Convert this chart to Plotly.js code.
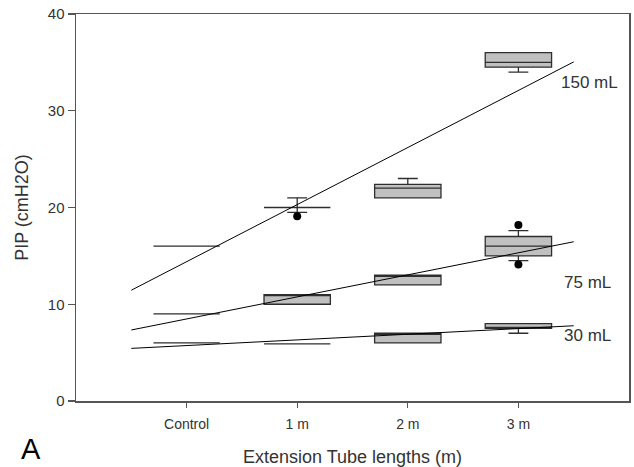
<!DOCTYPE html>
<html>
<head>
<meta charset="utf-8">
<script src="https://cdn.plot.ly/plotly-3.0.1.min.js"></script>
<style>html,body{margin:0;padding:0;background:#fff;}#chart{width:634px;height:467px;}</style>
</head>
<body>
<div id="chart"></div>
<script>
// Categories (x positions 0..3)
const categories = ['Control', '1 m', '2 m', '3 m'];
const catX = [0, 1, 2, 3];
const volumeLabels = ['150 mL', '75 mL', '30 mL'];

// 150 mL box statistics
const q1_150 = [16, 20, 21, 34.5];
const med_150 = [16, 20, 22, 35];
const q3_150 = [16, 20, 22.4, 36];
const lo_150 = [16, 19.5, 21, 34];
const hi_150 = [16, 21, 23, 36];
const outX_150 = [1];
const outY_150 = [19.1];

// 75 mL box statistics
const q1_75 = [9, 10, 12, 15];
const med_75 = [9, 11, 13, 16];
const q3_75 = [9, 11, 13, 17];
const lo_75 = [9, 10, 12, 14.5];
const hi_75 = [9, 11, 13, 17.6];
const outX_75 = [3, 3];
const outY_75 = [18.2, 14.1];

// 30 mL box statistics
const q1_30 = [6, 5.9, 6, 7.5];
const med_30 = [6, 5.9, 7, 7.6];
const q3_30 = [6, 5.9, 7, 8];
const lo_30 = [6, 5.9, 6, 7];
const hi_30 = [6, 5.9, 7, 8];

// Linear regression fits (intercept at Control, slope per category step)
const fitIntercept = [14.4, 8.48, 5.73];
const fitSlope = [5.9, 2.28, 0.585];
const fitRange = [-0.5, 3.5];

// Label positions (data coordinates)
const labelX = [3.37, 3.39, 3.39];
const labelY = [32.9, 12.3, 6.8];

const boxFill = '#c0c0c0';
const boxLine = '#2e2e2e';

const traces = [];
// regression lines (drawn first, under boxes)
for (let i = 0; i < 3; i++) {
  traces.push({
    type: 'scatter', mode: 'lines',
    x: fitRange,
    y: fitRange.map(x => fitIntercept[i] + fitSlope[i] * x),
    line: {color: '#000', width: 1},
    hoverinfo: 'skip', showlegend: false
  });
}
function boxTrace(name, q1, med, q3, lo, hi) {
  return {
    type: 'box', name: name, x: catX,
    q1: q1, median: med, q3: q3, lowerfence: lo, upperfence: hi,
    width: 0.6, whiskerwidth: 0.3,
    fillcolor: boxFill,
    line: {color: boxLine, width: 1.3},
    boxpoints: false, showlegend: false
  };
}
traces.push(boxTrace('150 mL', q1_150, med_150, q3_150, lo_150, hi_150));
traces.push(boxTrace('75 mL', q1_75, med_75, q3_75, lo_75, hi_75));
traces.push(boxTrace('30 mL', q1_30, med_30, q3_30, lo_30, hi_30));
// outliers
traces.push({type: 'scatter', mode: 'markers', x: outX_150, y: outY_150,
  marker: {color: '#000', size: 8}, showlegend: false});
traces.push({type: 'scatter', mode: 'markers', x: outX_75, y: outY_75,
  marker: {color: '#000', size: 8}, showlegend: false});

const font = 'Liberation Sans, Arial, sans-serif';
const annotations = volumeLabels.map((t, i) => ({
  x: labelX[i], y: labelY[i], xref: 'x', yref: 'y', text: t,
  showarrow: false, xanchor: 'left', yanchor: 'middle',
  font: {family: font, size: 17, color: '#333'}
}));
annotations.push({
  x: -0.103, y: -0.125, xref: 'paper', yref: 'paper', text: 'A',
  showarrow: false, xanchor: 'left', yanchor: 'middle',
  font: {family: font, size: 29, color: '#000'}
});

const layout = {
  width: 634, height: 467,
  margin: {l: 76, r: 5, t: 14, b: 66},
  paper_bgcolor: '#fff', plot_bgcolor: '#fff',
  font: {family: font, color: '#333'},
  boxmode: 'overlay',
  xaxis: {
    range: [-1, 4], tickvals: catX, ticktext: categories,
    showgrid: false, zeroline: false,
    showline: true, mirror: true, linecolor: '#555', linewidth: 1.5,
    ticks: 'outside', ticklen: 5, tickcolor: '#555', tickwidth: 1.2,
    ticklabelstandoff: 5,
    tickfont: {family: font, size: 14, color: '#333'},
    title: {text: 'Extension Tube lengths (m)', font: {family: font, size: 18, color: '#333'}, standoff: 20}
  },
  yaxis: {
    range: [0, 40], dtick: 10,
    showgrid: false, zeroline: false,
    showline: true, mirror: true, linecolor: '#555', linewidth: 1.5,
    ticks: 'outside', ticklen: 7, tickcolor: '#555', tickwidth: 1.2,
    tickfont: {family: font, size: 15, color: '#333'},
    title: {text: 'PIP (cmH2O)', font: {family: font, size: 18, color: '#333'}, standoff: 14}
  },
  annotations: annotations
};

Plotly.newPlot('chart', traces, layout, {displayModeBar: false, staticPlot: true});
</script>
</body>
</html>
